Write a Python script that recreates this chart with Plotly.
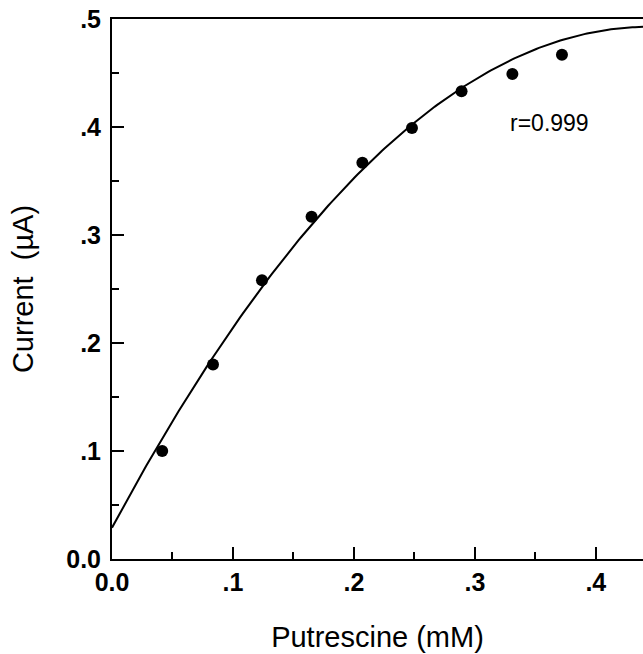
import numpy as np
import plotly.graph_objects as go

# Putrescine calibration data
conc_mM = [0.0415, 0.0835, 0.124, 0.165, 0.207, 0.248, 0.289, 0.331, 0.372]
current_uA = [0.100, 0.180, 0.258, 0.317, 0.367, 0.399, 0.433, 0.449, 0.467]

# quadratic calibration fit (highest power first)
fit_coeffs = [-2.35, 2.088, 0.029]

x_ticks = [0.0, 0.1, 0.2, 0.3, 0.4]
x_ticktext = ["0.0", ".1", ".2", ".3", ".4"]
y_ticks = [0.0, 0.1, 0.2, 0.3, 0.4, 0.5]
y_ticktext = ["0.0", ".1", ".2", ".3", ".4", ".5"]

x_range = [0, 0.439]
y_range = [0, 0.5]

xf = np.linspace(x_range[0], x_range[1], 200)
yf = np.polyval(fit_coeffs, xf)

fig = go.Figure()
fig.add_trace(go.Scatter(x=xf, y=yf, mode="lines",
                         line=dict(color="black", width=2), hoverinfo="skip"))
fig.add_trace(go.Scatter(x=conc_mM, y=current_uA, mode="markers",
                         marker=dict(color="black", size=12)))

fig.add_annotation(x=0.327, y=0.404, xref="x", yref="y", text="r=0.999",
                   showarrow=False, xanchor="left",
                   font=dict(family="Liberation Sans", size=23, color="black"))

tick_font = dict(family="Liberation Sans", size=25, color="black", weight="bold")
title_font = dict(family="Liberation Sans", size=29, color="black")

fig.update_layout(
    width=643, height=654,
    margin=dict(l=112, r=0, t=19, b=95),
    paper_bgcolor="white", plot_bgcolor="white",
    showlegend=False,
    xaxis=dict(range=x_range, tickvals=x_ticks, ticktext=x_ticktext,
               ticks="inside", ticklen=12, tickwidth=2, tickcolor="black",
               minor=dict(dtick=0.05, ticks="inside", ticklen=7, tickwidth=2,
                          tickcolor="black"),
               showline=True, linecolor="black", linewidth=2, mirror=True,
               showgrid=False, zeroline=False, tickfont=tick_font,
               title=dict(text="Putrescine (mM)", font=title_font, standoff=32)),
    yaxis=dict(range=y_range, tickvals=y_ticks, ticktext=y_ticktext,
               ticks="inside", ticklen=12, tickwidth=2, tickcolor="black",
               minor=dict(dtick=0.05, ticks="inside", ticklen=7, tickwidth=2,
                          tickcolor="black"),
               showline=True, linecolor="black", linewidth=2,
               showgrid=False, zeroline=False, tickfont=tick_font,
               ticklabelstandoff=4,
               title=dict(text="Current  (µA)", font=title_font, standoff=24)),
)

fig.write_html("out.html")
